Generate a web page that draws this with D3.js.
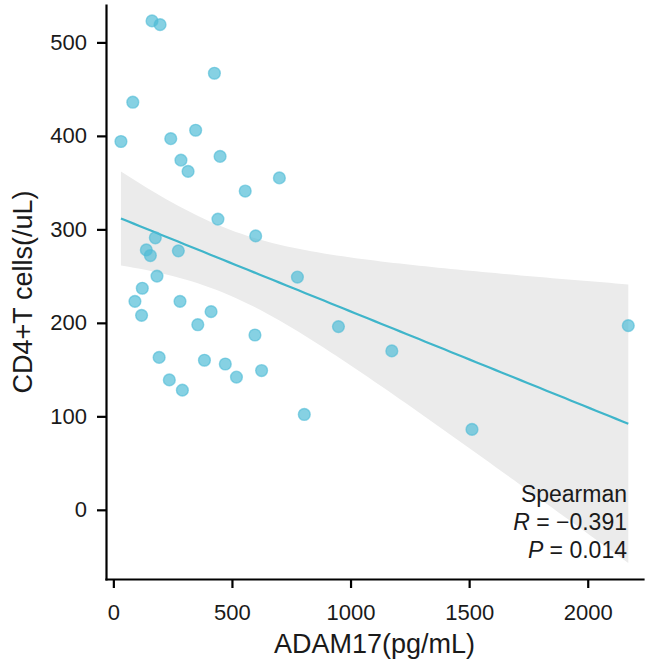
<!DOCTYPE html>
<html>
<head>
<meta charset="utf-8">
<script src="https://cdn.jsdelivr.net/npm/d3@7"></script>
<style>
  html, body { margin: 0; padding: 0; background: #fff; }
  svg { display: block; font-family: "Liberation Sans", Arial, sans-serif; }
</style>
</head>
<body>
<svg id="chart" width="653" height="662"></svg>
<script>
// ---- data ----
const adam17 = [163, 197, 426, 82, 32, 242, 347, 285, 315, 450, 556, 700, 441, 600, 177, 139, 156, 274, 184, 776,
                122, 91, 281, 119, 412, 356, 597, 193, 384, 472, 625, 519, 236, 291, 805, 949, 1174, 1512, 2171];
const cd4 =    [523, 519, 467, 436, 394, 397, 406, 374, 362, 378, 341, 355, 311, 293, 291, 278, 272, 277, 250, 249,
                237, 223, 223, 208, 212, 198, 187, 163, 160, 156, 149, 142, 139, 128, 102, 196, 170, 86, 197];
const xTicks = [0, 500, 1000, 1500, 2000];
const yTicks = [0, 100, 200, 300, 400, 500];
const xTitle = "ADAM17(pg/mL)";
const yTitle = "CD4+T cells(/uL)";
const statMethod = "Spearman";
const statR = "\u22120.391";
const statP = "0.014";
const tCrit = 2.026; // t quantile 0.975, df = n - 2 = 37

// ---- layout ----
const svg = d3.select("#chart");
const panel = { left: 106, right: 643, top: 5, bottom: 579 };
const x = d3.scaleLinear().domain([-31, 2233]).range([panel.left, panel.right]);
const y = d3.scaleLinear().domain([-74, 540]).range([panel.bottom, panel.top]);

// ---- linear fit + 95% confidence band ----
const n = adam17.length;
const mx = d3.mean(adam17), my = d3.mean(cd4);
let sxx = 0, sxy = 0;
for (let i = 0; i < n; i++) { sxx += (adam17[i] - mx) ** 2; sxy += (adam17[i] - mx) * (cd4[i] - my); }
const b = sxy / sxx, a = my - b * mx;
let sse = 0;
for (let i = 0; i < n; i++) sse += (cd4[i] - (a + b * adam17[i])) ** 2;
const s = Math.sqrt(sse / (n - 2));
const [xmin, xmax] = d3.extent(adam17);
const grid = d3.range(0, 81).map(k => xmin + (xmax - xmin) * k / 80);
const band = grid.map(xv => {
  const fit = a + b * xv;
  const se = s * Math.sqrt(1 / n + (xv - mx) ** 2 / sxx);
  return { x: xv, fit, lo: fit - tCrit * se, hi: fit + tCrit * se };
});

svg.append("path")
  .datum(band)
  .attr("fill", "#ebebeb")
  .attr("d", d3.area().x(d => x(d.x)).y0(d => y(d.lo)).y1(d => y(d.hi)));

svg.append("path")
  .datum(band)
  .attr("fill", "none")
  .attr("stroke", "#3fb5ca")
  .attr("stroke-width", 2.2)
  .attr("d", d3.line().x(d => x(d.x)).y(d => y(d.fit)));

// ---- points ----
svg.append("g").selectAll("circle")
  .data(adam17.map((v, i) => [v, cd4[i]]))
  .join("circle")
  .attr("cx", d => x(d[0]))
  .attr("cy", d => y(d[1]))
  .attr("r", 5.9)
  .attr("fill", "#4DBBD5")
  .attr("fill-opacity", 0.68)
  .attr("stroke", "#4DBBD5")
  .attr("stroke-opacity", 0.6)
  .attr("stroke-width", 1.4);

// ---- annotation ----
const ann = svg.append("g").attr("font-size", 23).attr("fill", "#1a1a1a").attr("text-anchor", "end");
ann.append("text").attr("x", 627).attr("y", 502).text(statMethod);
const tR = ann.append("text").attr("x", 627).attr("y", 530);
tR.append("tspan").attr("font-style", "italic").text("R");
tR.append("tspan").text(" = " + statR);
const tP = ann.append("text").attr("x", 627).attr("y", 558);
tP.append("tspan").attr("font-style", "italic").text("P");
tP.append("tspan").text(" = " + statP);

// ---- axes ----
const yAxis = svg.append("g")
  .attr("transform", `translate(${panel.left},0)`)
  .call(d3.axisLeft(y).tickValues(yTicks).tickFormat(d3.format("d")).tickSize(9).tickSizeOuter(0).tickPadding(10));
const xAxis = svg.append("g")
  .attr("transform", `translate(0,${panel.bottom})`)
  .call(d3.axisBottom(x).tickValues(xTicks).tickFormat(d3.format("d")).tickSize(9).tickSizeOuter(0).tickPadding(16));

[yAxis, xAxis].forEach(g => {
  g.select(".domain").attr("stroke", "#000").attr("stroke-width", 2.2).attr("stroke-linecap", "square");
  g.selectAll(".tick line").attr("stroke", "#000").attr("stroke-width", 2.2);
  g.selectAll(".tick text").attr("fill", "#1a1a1a").attr("font-size", 22)
    .attr("font-family", "Liberation Sans, Arial, sans-serif");
});

// ---- titles ----
svg.append("text")
  .attr("x", (panel.left + panel.right) / 2)
  .attr("y", 653)
  .attr("text-anchor", "middle")
  .attr("font-size", 27)
  .attr("fill", "#1a1a1a")
  .text(xTitle);

svg.append("text")
  .attr("transform", `translate(32,${(panel.top + panel.bottom) / 2}) rotate(-90)`)
  .attr("text-anchor", "middle")
  .attr("font-size", 27)
  .attr("fill", "#1a1a1a")
  .text(yTitle);
</script>
</body>
</html>
